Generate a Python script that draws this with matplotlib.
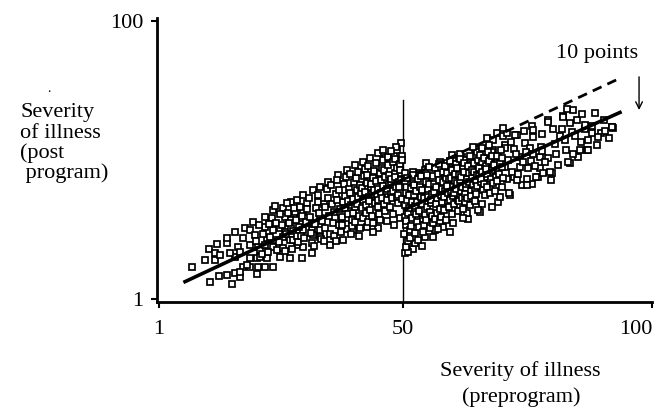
import matplotlib
matplotlib.use("Agg")
import matplotlib.pyplot as plt

plt.rcParams['font.family'] = ['Liberation Serif', 'DejaVu Serif']

# --- data (pre score, post score) ---
# comparison group: pre severity below the cutoff of 50
left_points = [
    (7.7, 12.5), (11.2, 7.2), (13.0, 9.3), (14.7, 9.5), (16.3, 10.4), (15.7, 6.2),
    (17.3, 8.9), (20.7, 9.8), (11.0, 18.7), (10.2, 14.9), (12.2, 14.9), (12.2, 17.3),
    (13.2, 16.7), (14.6, 20.8), (14.7, 22.6), (16.3, 25.0), (16.9, 19.6), (16.3, 15.8),
    (17.3, 17.8), (17.9, 22.6), (18.3, 26.2), (19.9, 28.5), (19.3, 25.6), (20.3, 23.8),
    (19.3, 20.2), (20.9, 19.6), (20.6, 15.5), (20.9, 12.5), (22.3, 12.5), (23.9, 12.3),
    (17.9, 12.5), (19.3, 12.5), (12.6, 20.6), (15.3, 17.4), (18.7, 13.1), (21.3, 15.9),
    (22.7, 15.6), (19.3, 15.6), (17.3, 10.6),
    (22.3, 26.7), (22.3, 30.3), (23.6, 29.7), (23.9, 32.7), (23.9, 25.6), (23.9, 19.6),
    (22.6, 22.6), (25.3, 26.2), (25.3, 16.1), (26.0, 33.3), (27.6, 35.6), (28.3, 32.1),
    (27.3, 22.0), (27.3, 15.5), (28.7, 20.2), (29.7, 15.5), (30.0, 25.6), (31.7, 17.3),
    (28.7, 36.2), (30.0, 38.0), (30.0, 32.1), (32.0, 39.8), (29.3, 29.7), (31.0, 27.9),
    (31.7, 25.6), (31.7, 20.8), (32.0, 23.8), (26.3, 30.3), (27.6, 29.1), (26.3, 25.0),
    (21.3, 18.4), (22.3, 20.2), (27.6, 26.2), (33.0, 35.6), (33.3, 29.7),
    (30.7, 35.3), (33.3, 41.0), (35.0, 42.7), (37.0, 45.1), (38.8, 46.9), (40.4, 48.7),
    (42.0, 49.9), (43.4, 51.1), (45.0, 52.9), (46.0, 54.0), (46.4, 51.1), (38.0, 22.0),
    (40.0, 25.6), (42.7, 26.7), (45.0, 26.2), (35.3, 20.2), (33.3, 23.2), (30.0, 19.6),
    (28.0, 22.0), (26.0, 23.2), (24.0, 22.0),
    (20.5, 21.7), (21.0, 27.2), (21.7, 16.9), (21.9, 24.0), (22.9, 17.8), (23.1, 27.8),
    (23.3, 23.2), (24.5, 28.0), (24.7, 18.4), (24.3, 34.0), (25.0, 21.2), (25.2, 31.3),
    (25.7, 27.4), (25.9, 19.0), (26.6, 24.0), (26.8, 35.1), (26.4, 18.2), (27.0, 31.5),
    (27.2, 27.9), (28.0, 25.1), (28.2, 33.4), (27.8, 18.9), (28.5, 29.0), (28.7, 23.6),
    (29.2, 26.8), (29.4, 33.9), (29.0, 21.3), (29.8, 30.4), (29.6, 23.5),
    (30.5, 28.4), (30.2, 22.9), (30.8, 33.1), (31.4, 30.2), (31.1, 36.8), (31.6, 24.5),
    (32.3, 27.6), (32.6, 33.4), (32.1, 19.9), (33.1, 31.8), (33.4, 25.7), (32.9, 38.2),
    (33.8, 28.9), (34.1, 35.0), (33.6, 22.4), (34.4, 33.7), (34.7, 40.1), (34.3, 26.3),
    (35.1, 30.6), (35.4, 24.1), (34.9, 36.9), (35.7, 34.8), (36.0, 28.2), (35.5, 41.5),
    (36.2, 31.9), (36.5, 38.4), (36.1, 23.6), (36.8, 36.1), (37.1, 27.4), (36.7, 43.2),
    (37.3, 33.0), (37.6, 29.8), (37.2, 39.7), (37.5, 24.9), (37.9, 35.4), (38.2, 42.0),
    (37.8, 30.1), (38.4, 37.8), (38.7, 27.7), (38.3, 33.5), (38.6, 44.6), (38.9, 31.2),
    (39.2, 40.3), (39.0, 35.9), (38.8, 25.8), (39.4, 38.6), (39.7, 29.3), (39.5, 34.4),
    (39.3, 45.5), (39.9, 36.7), (40.2, 42.7), (40.0, 31.6), (39.8, 27.0), (40.4, 33.9),
    (40.7, 39.8), (40.5, 44.1), (40.3, 28.5), (40.9, 37.2), (41.2, 30.7), (41.0, 46.3),
    (40.8, 35.0), (41.4, 41.6), (41.7, 33.4), (41.5, 38.9), (41.3, 26.4), (41.9, 36.3),
    (42.2, 44.8), (42.0, 29.9), (41.8, 40.5), (42.3, 39.1), (42.6, 31.8), (42.4, 47.2),
    (42.5, 34.6), (42.8, 42.4), (43.1, 37.5), (42.9, 28.3), (42.7, 45.0), (43.2, 35.8),
    (43.5, 40.9), (43.3, 32.7), (43.0, 48.3), (43.7, 38.3), (44.0, 44.2), (43.8, 30.4),
    (43.6, 41.8), (44.1, 46.6), (44.4, 35.1), (44.2, 39.7), (44.0, 27.9), (44.6, 42.9),
    (44.9, 33.6), (44.7, 37.8), (44.5, 49.5), (45.0, 40.2), (45.3, 45.7), (45.1, 31.3),
    (44.9, 36.4), (45.5, 38.7), (45.8, 47.8), (45.6, 43.5), (45.4, 29.2), (45.9, 41.3),
    (46.2, 34.8), (46.0, 50.4), (45.8, 37.1), (46.3, 44.6), (46.6, 39.4), (46.4, 32.5),
    (46.2, 47.1), (46.8, 36.2), (47.1, 42.1), (46.9, 51.6), (46.7, 40.0), (47.2, 45.3),
    (47.5, 38.5), (47.3, 33.9), (47.0, 48.7), (47.6, 41.7), (47.9, 49.9), (47.7, 36.8),
    (47.5, 43.9), (48.0, 39.6), (48.3, 46.0), (48.1, 52.6), (47.9, 31.4), (48.4, 44.3),
    (48.7, 37.4), (48.5, 41.0), (48.3, 50.8), (48.8, 47.5), (49.1, 42.6), (48.9, 35.3),
    (48.7, 54.1), (49.2, 40.8), (49.5, 45.8), (49.3, 49.1), (49.0, 38.2), (49.6, 43.4),
    (49.8, 52.0), (49.7, 36.6), (49.4, 47.0), (49.5, 56.5), (48.6, 55.0), (47.5, 53.8),
    (49.8, 50.5), (48.2, 27.5), (49.4, 30.0), (46.7, 28.6), (43.9, 25.0), (41.2, 23.4),
    (39.5, 24.3), (36.6, 21.5), (34.2, 21.8), (37.8, 27.2),
]

# program group: pre severity above the cutoff
right_points = [
    (50.5, 45.8), (66.9, 58.3), (68.9, 60.1), (84.1, 68.3), (88.5, 67.2), (92.0, 62.2),
    (82.1, 66.1), (79.1, 64.7), (75.9, 62.6), (72.9, 59.4), (70.1, 59.0), (68.1, 57.6),
    (64.5, 54.4), (61.8, 51.5), (60.0, 51.2),
    (50.4, 17.4), (52.0, 18.8), (53.8, 19.9), (56.0, 23.1), (59.4, 24.8), (63.0, 29.5),
    (65.5, 32.0), (69.1, 35.5), (71.5, 38.0), (73.9, 41.6), (75.9, 41.9), (77.1, 44.4),
    (79.9, 45.8), (83.5, 49.4), (85.1, 51.5), (86.9, 54.0), (88.9, 55.8), (92.2, 61.9),
    (70.8, 60.0), (72.5, 59.4), (70.5, 55.8), (72.2, 54.3), (74.5, 56.4), (76.2, 58.8),
    (76.2, 61.1), (79.2, 64.1), (82.2, 65.9), (85.0, 64.7), (83.5, 63.5), (80.2, 61.4),
    (81.9, 61.4), (83.9, 60.5), (86.5, 61.4), (87.9, 60.0), (89.7, 60.0), (91.9, 62.3),
    (87.1, 57.6), (85.5, 54.0), (87.1, 54.0), (82.8, 54.0), (84.2, 52.8), (80.8, 52.8),
    (77.5, 51.6), (79.2, 51.1), (81.2, 48.7), (83.2, 49.9), (75.5, 54.6), (77.8, 55.2),
    (76.2, 52.8), (73.5, 51.6), (73.5, 48.1), (75.2, 47.5), (77.5, 47.5), (79.5, 46.3),
    (70.5, 48.1), (72.2, 44.5), (74.8, 43.9), (76.8, 44.5), (78.2, 45.7), (79.8, 43.3),
    (68.1, 54.0), (69.1, 51.6), (70.5, 54.6), (64.8, 53.4), (66.1, 50.5), (67.4, 49.9),
    (64.1, 49.9), (62.4, 50.5), (60.4, 48.1), (58.8, 49.3), (61.4, 45.7), (64.1, 46.9),
    (66.5, 44.5), (68.8, 45.7), (70.8, 43.9), (72.8, 43.3), (74.8, 41.6), (69.8, 41.0),
    (67.5, 40.4), (65.5, 41.0), (62.8, 42.2), (69.5, 37.4), (71.2, 38.6),
    (52.0, 46.3), (54.7, 49.3), (57.4, 49.9), (59.8, 52.2), (61.4, 52.8), (64.1, 55.2),
    (65.8, 54.6), (67.8, 53.4), (66.5, 51.1), (68.8, 49.3), (67.4, 46.3), (65.5, 45.7),
    (62.8, 44.5), (67.8, 33.8), (65.8, 35.0), (65.1, 32.7), (62.8, 31.5), (62.1, 29.7),
    (60.1, 27.9), (58.1, 26.7), (56.4, 25.6), (54.4, 23.2), (52.4, 20.8), (51.1, 17.8),
    (50.7, 19.6),
    (71.0, 50.6), (71.8, 46.3), (72.6, 52.5), (73.1, 45.6), (74.0, 49.8), (74.6, 53.4),
    (75.8, 50.2), (76.6, 48.4), (77.9, 53.6), (78.6, 49.7), (80.5, 56.2), (81.5, 58.9),
    (82.5, 57.5), (84.6, 59.2), (85.8, 57.0), (86.6, 63.0), (89.2, 58.6), (90.6, 61.0),
    (90.3, 64.6), (91.3, 58.2), (88.0, 62.7), (83.0, 68.5), (86.0, 66.8), (78.0, 59.8),
    (74.2, 61.0), (71.6, 56.9), (70.0, 62.0),
    (50.3, 30.1), (50.6, 38.7), (50.2, 24.2), (50.5, 42.9), (50.4, 34.6), (50.7, 27.3),
    (50.8, 36.2), (51.1, 21.5), (50.9, 44.0), (51.0, 31.7), (50.7, 28.8), (51.3, 33.4),
    (51.6, 40.5), (51.4, 25.6), (51.2, 37.9), (51.5, 22.9), (51.8, 29.8), (52.1, 42.3),
    (51.9, 35.5), (51.7, 27.1), (52.0, 45.1), (52.3, 38.1), (52.6, 31.2), (52.4, 24.4),
    (52.2, 41.7), (52.5, 34.0), (52.8, 35.7), (53.1, 43.6), (52.9, 28.3), (52.7, 39.4),
    (53.0, 22.1), (53.3, 32.5), (53.6, 37.2), (53.4, 46.0), (53.2, 26.7), (53.5, 41.0),
    (53.8, 39.8), (54.1, 29.6), (53.9, 35.0), (53.7, 44.7), (54.0, 24.8), (54.3, 36.8),
    (54.6, 42.5), (54.4, 31.0), (54.2, 27.4), (54.5, 47.1), (54.8, 33.9), (55.1, 40.2),
    (54.9, 45.3), (54.7, 29.0), (55.0, 37.5), (55.3, 41.8), (55.6, 35.3), (55.4, 26.2),
    (55.2, 48.0), (55.5, 32.1), (55.8, 38.4), (56.1, 44.9), (55.9, 30.6), (55.7, 36.3),
    (56.0, 27.9), (56.3, 42.0), (56.6, 34.7), (56.4, 47.5), (56.2, 39.1), (56.5, 29.4),
    (56.8, 36.9), (57.1, 45.6), (56.9, 31.8), (56.7, 40.8), (57.0, 26.0), (57.3, 43.3),
    (57.6, 38.0), (57.4, 33.2), (57.2, 49.2), (57.5, 28.6), (57.8, 40.1), (58.1, 46.4),
    (57.9, 35.6), (57.7, 30.2), (58.0, 42.7), (58.3, 37.4), (58.6, 44.0), (58.4, 48.4),
    (58.2, 32.8), (58.5, 39.5), (58.8, 41.4), (59.1, 35.2), (58.9, 45.8), (58.7, 29.1),
    (59.0, 38.6), (59.3, 43.7), (59.6, 39.0), (59.4, 50.3), (59.2, 33.6), (59.5, 36.1),
    (59.8, 46.9), (60.1, 41.2), (59.9, 31.4), (59.7, 44.2), (60.0, 37.8), (60.3, 38.8),
    (60.6, 49.0), (60.4, 43.0), (60.2, 34.9), (60.5, 45.5), (60.8, 42.2), (61.1, 36.4),
    (60.9, 47.6), (60.7, 40.0), (61.0, 32.3), (61.3, 45.0), (61.6, 39.6), (61.4, 51.0),
    (61.2, 35.8), (61.5, 43.4), (61.8, 41.0), (62.1, 47.9), (61.9, 37.1), (61.7, 44.6),
    (62.0, 33.0), (62.3, 46.3), (62.6, 40.7), (62.4, 38.4), (62.2, 49.6), (62.5, 35.5),
    (62.8, 43.8), (63.1, 48.2), (62.9, 37.0), (62.7, 41.9), (63.3, 45.9), (63.6, 39.3),
    (63.4, 51.8), (63.2, 42.7), (63.5, 34.4), (63.8, 47.0), (64.1, 41.5), (63.9, 44.0),
    (63.7, 37.6), (64.3, 49.3), (64.6, 43.1), (64.4, 39.9), (64.2, 46.4), (64.5, 36.0),
    (64.8, 45.1), (65.1, 50.6), (64.9, 41.1), (64.7, 38.3), (65.3, 47.8), (65.6, 42.5),
    (65.4, 52.4), (65.2, 44.8), (65.8, 49.7), (66.1, 39.8), (65.9, 46.2), (65.7, 43.6),
    (66.3, 42.0), (66.6, 48.5), (66.4, 37.9), (66.2, 51.3), (66.8, 45.4), (67.1, 53.3),
    (66.9, 40.9), (66.7, 47.4), (67.3, 50.2), (67.6, 43.9), (67.4, 38.9), (67.2, 55.7),
    (67.8, 46.9), (68.1, 42.4), (67.9, 52.0), (68.3, 48.8), (68.6, 44.3), (68.4, 39.5),
    (68.8, 51.9), (69.1, 47.1), (68.9, 43.0), (69.3, 45.5), (69.6, 53.9), (69.4, 49.5),
    (69.8, 47.9), (70.1, 44.1), (69.9, 51.1),
]

# regression lines (end points)
left_line_x = [5.9, 50]
left_line_y = [6.9, 43.5]
right_line_x = [50, 93.9]
right_line_y = [32.6, 67.7]
dashed_x = [50, 93.9]
dashed_y = [43.5, 79.9]
cutoff = 50
cutoff_top = 72

x_ticks = [1, 50, 100]
y_ticks = [1, 100]

W, H = 659, 411
fig = plt.figure(figsize=(W / 100, H / 100), dpi=100)
ax = fig.add_axes([157 / W, 1 - 302 / H, 495 / W, 284 / H])
ax.set_xlim(0.6, 100)
ax.set_ylim(-0.07, 101.07)

lx, ly = zip(*left_points)
rx, ry = zip(*right_points)
for xs, ys in [(lx, ly), (rx, ry)]:
    ax.plot(xs, ys, ls='none', marker='s', ms=4.3, mew=1.25,
            mfc='white', mec='black', zorder=2)

ax.plot(left_line_x, left_line_y, color='black', lw=2.6, zorder=3,
        solid_capstyle='butt')
ax.plot(right_line_x, right_line_y, color='black', lw=2.6, zorder=3,
        solid_capstyle='butt')
ax.plot(dashed_x, dashed_y, color='black', lw=2.0, ls=(0, (3.5, 2.3)), zorder=3)
ax.plot([cutoff, cutoff], [0, cutoff_top], color='black', lw=1.0, zorder=1)

# "10 points" note and arrow
ax.text(88.9, 88.3, '10 points', fontsize=16, ha='center', va='center')
ax.annotate('', xy=(97.4, 68.3), xytext=(97.4, 80.1),
            arrowprops=dict(arrowstyle='->', lw=1.0, color='black',
                            mutation_scale=12, shrinkA=0, shrinkB=0),
            annotation_clip=False)

for side in ['top', 'right']:
    ax.spines[side].set_visible(False)
for side in ['left', 'bottom']:
    ax.spines[side].set_linewidth(2)

ax.set_xticks(x_ticks)
ax.set_yticks(y_ticks)
ax.tick_params(direction='out', length=4, width=1.5, labelsize=16)
ax.tick_params(axis='x', pad=9)
ax.tick_params(axis='y', pad=6)
ax.get_xticklabels()[-1].set_horizontalalignment('right')

# axis titles drawn as free text like the original
fig.text(520 / W, 1 - 371 / H, 'Severity of illness', fontsize=16,
         ha='center', va='center')
fig.text(521 / W, 1 - 397 / H, '(preprogram)', fontsize=16,
         ha='center', va='center')

ylab = [('Severity', 20, 113), ('of illness', 20, 133),
        ('(post', 20, 153), (' program)', 20, 173)]
for txt, px, py in ylab:
    fig.text(px / W, 1 - py / H, txt, fontsize=16, ha='left', va='center')
fig.text(47 / W, 1 - 95 / H, '.', fontsize=10, ha='left', va='bottom')

fig.savefig('out.png', dpi=100)
